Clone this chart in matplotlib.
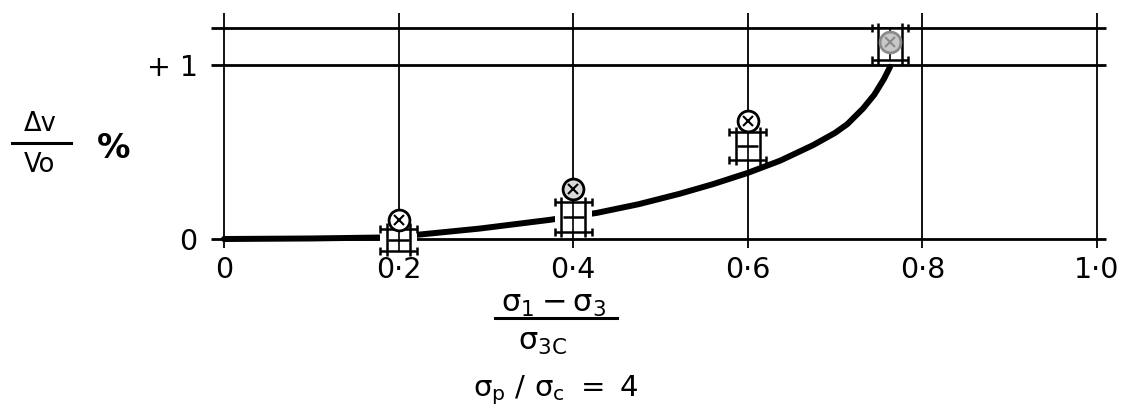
import matplotlib
matplotlib.use("Agg")
import matplotlib.pyplot as plt
from matplotlib.lines import Line2D
from matplotlib.patches import Rectangle

plt.rcParams['font.family'] = ['DejaVu Sans']
plt.rcParams['mathtext.fontset'] = 'dejavusans'

# ---- data -------------------------------------------------------------
x_ticks = [0.0, 0.2, 0.4, 0.6, 0.8, 1.0]
x_tick_labels = ['0', '0·2', '0·4', '0·6', '0·8', '1·0']
y_ticks = [0, 1]
y_tick_labels = ['0', '+ 1']
ref_levels = [0.0, 1.0, 1.21]

# fitted volume-change curve
curve_x = [0.0, 0.10, 0.20, 0.213, 0.293, 0.373, 0.427, 0.475, 0.522,
           0.560, 0.600, 0.637, 0.675, 0.700, 0.714, 0.732, 0.745,
           0.756, 0.763]
curve_y = [0.0, 0.003, 0.01, 0.02, 0.06, 0.11, 0.15, 0.20, 0.26,
           0.315, 0.38, 0.45, 0.54, 0.61, 0.66, 0.75, 0.83,
           0.92, 0.99]

# test points: stress ratio, circle reading, bracket range
test_x = [0.2, 0.4, 0.6, 0.763]
circle_y = [0.11, 0.29, 0.68, 1.13]
bracket_low = [-0.07, 0.04, 0.455, 1.03]
bracket_high = [0.06, 0.21, 0.615, 1.21]
circle_face = ['white', '#d9d9d9', 'white', '#c8c8c8']
circle_edge = ['black', 'black', 'black', '#8a8a8a']

# ---- figure -----------------------------------------------------------
W, H = 1121, 415
fig = plt.figure(figsize=(W / 100, H / 100), dpi=100)
fig.patch.set_facecolor('white')

x0_px, x1_px = 224, 1097
y0_px, y1_px = 239, 65
ax = fig.add_axes([x0_px / W, (H - y0_px) / H,
                   (x1_px - x0_px) / W, (y0_px - y1_px) / H])
ax.set_xlim(0, 1)
ax.set_ylim(0, 1)
for s in ax.spines.values():
    s.set_visible(False)
ax.patch.set_alpha(0)

ax.set_xticks(x_ticks, x_tick_labels)
ax.set_yticks(y_ticks, y_tick_labels)
ax.tick_params(axis='both', length=0, labelsize=20.5, colors='black')
ax.tick_params(axis='x', pad=12.5)
ax.tick_params(axis='y', pad=19)

# grid frame
for xv in x_ticks:
    ax.plot([xv, xv], [-0.05, 1.30], color='black', lw=1.3,
            clip_on=False, zorder=1, solid_capstyle='butt')
for yv in ref_levels:
    ax.plot([-0.015, 1.01], [yv, yv], color='black', lw=2.0,
            clip_on=False, zorder=1, solid_capstyle='butt')

# curve
ax.plot(curve_x, curve_y, color='black', lw=4.3, clip_on=False,
        zorder=2, solid_capstyle='round', solid_joinstyle='round')

# bracket + circle symbols
side = 0.0135
bar = 0.021
for xi, cy, lo, hi, fc, ec in zip(test_x, circle_y, bracket_low,
                                  bracket_high, circle_face, circle_edge):
    ax.add_patch(Rectangle((xi - bar, lo), 2 * bar, hi - lo,
                           facecolor='white', edgecolor='none',
                           zorder=3, clip_on=False))
    kw = dict(color='black', lw=1.8, clip_on=False, zorder=4,
              solid_capstyle='butt')
    ax.plot([xi - side, xi - side], [lo - 0.03, hi + 0.03], **kw)
    ax.plot([xi + side, xi + side], [lo - 0.03, hi + 0.03], **kw)
    ax.plot([xi - bar, xi + bar], [lo, lo], **kw)
    ax.plot([xi - bar, xi + bar], [hi, hi], **kw)
    ax.plot([xi - side * 0.9, xi + side * 0.9],
            [(lo + hi) / 2, (lo + hi) / 2], **kw)
    ax.plot([xi, xi], [lo, hi], color='black', lw=1.2, clip_on=False,
            zorder=4)
    ax.plot([xi - bar, xi + bar, xi - bar, xi + bar], [lo, lo, hi, hi],
            ls='none', marker='|', ms=6, mew=1.8, color='black',
            clip_on=False, zorder=4)
    ax.plot([xi], [cy], marker='o', ms=15, mfc=fc, mec=ec, mew=2.0,
            clip_on=False, zorder=5)
    ax.plot([xi], [cy], marker='x', ms=7, mew=1.5, color=ec,
            clip_on=False, zorder=6)


def fpos(px, py):
    return px / W, (H - py) / H


# y-axis label: fraction  Δv / Vo  %
fig.text(*fpos(40, 124), 'Δv', fontsize=18.5, ha='center', va='center')
fig.text(*fpos(39, 165), 'Vo', fontsize=18.5, ha='center', va='center')
fig.add_artist(Line2D([12 / W, 71 / W], [(H - 143) / H] * 2,
                      color='black', lw=2.2))
fig.text(*fpos(114, 149), '%', fontsize=24, fontweight='bold',
         ha='center', va='center')

# x-axis label: (σ1 - σ3) / σ3C
fig.text(*fpos(554, 304), r'$\mathregular{\sigma_1 - \sigma_3}$',
         fontsize=22, ha='center', va='center')
fig.add_artist(Line2D([495 / W, 617 / W], [(H - 318) / H] * 2,
                      color='black', lw=2.2))
fig.text(*fpos(543, 342), r'$\mathregular{\sigma_{3C}}$',
         fontsize=22, ha='center', va='center')
fig.text(*fpos(556, 390), r'$\mathregular{\sigma_p\ /\ \sigma_c\ =\ 4}$',
         fontsize=21, ha='center', va='center')

fig.savefig('out.png', dpi=100, facecolor='white')
